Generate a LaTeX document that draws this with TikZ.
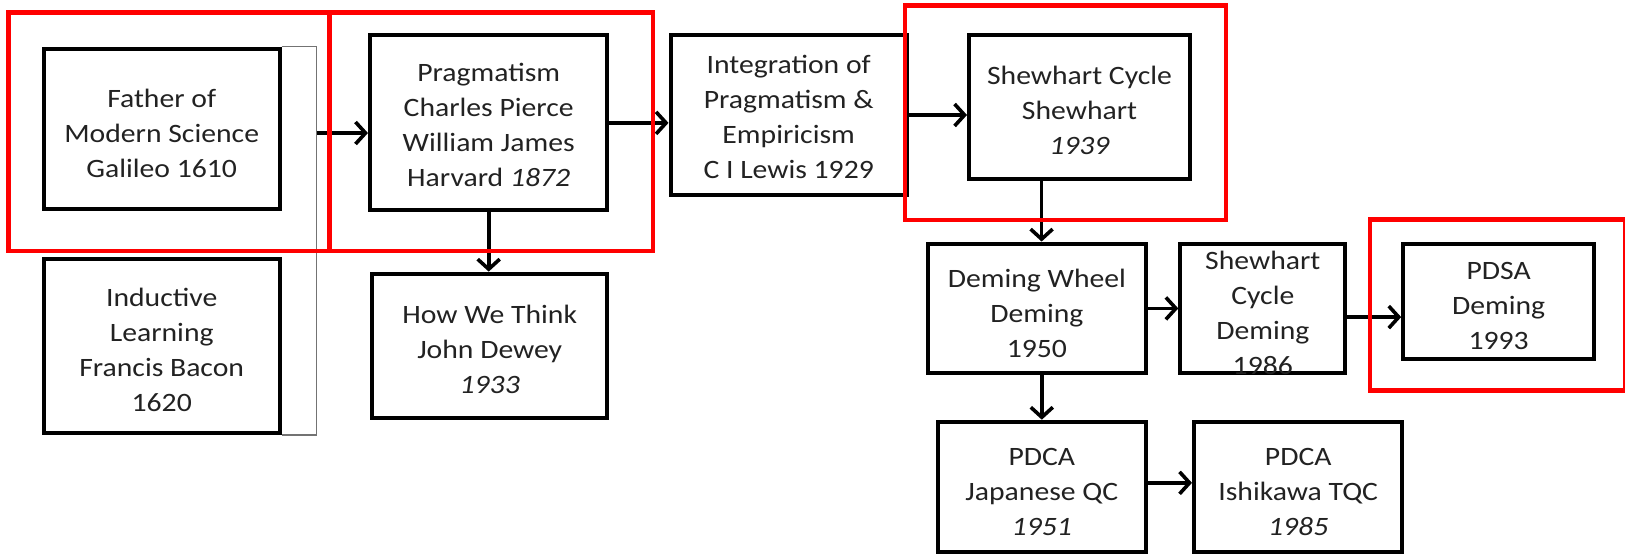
\documentclass[tikz,border=0pt]{standalone}
\usepackage{fontspec}
\setmainfont{Carlito}[FakeStretch=1.12]
\usetikzlibrary{arrows.meta,calc}
\definecolor{txtc}{HTML}{222222}
\tikzset{
  box/.style={draw=black, line width=4pt, rectangle, inner sep=0pt},
  txt/.style={inner sep=0pt, align=center, text=txtc, font=\fontsize{26.5}{35}\selectfont},
  arr/.style={line width=3.6pt, -{Straight Barb[length=10pt,width=22pt,line width=3.6pt]}},
  thin/.style={draw=black!55, line width=1.6pt},
  hl/.style={draw=red, line width=4.5pt}
}
% name, x, y, width, height, text-shift, text
\newcommand\mybox[7]{%
  \node[box, minimum width=#4pt, minimum height=#5pt] (#1) at (#2,#3) {};
  \node[txt] (#1-t) at ([yshift=#6pt]#1.center) {#7};}
\begin{document}
\begin{tikzpicture}[x=1pt,y=-1pt]
\useasboundingbox (0,0) rectangle (1625,554);
\fill[white] (0,0) rectangle (1625,554);
\begin{scope}
\clip (0,0) rectangle (1625,554);
\mybox{gal}{161.7}{128.5}{236}{160}{-4.5}{Father of\\Modern Science\\Galileo 1610}
\mybox{bac}{161.7}{346.2}{236}{174}{-4}{Inductive\\Learning\\Francis Bacon\\1620}
\mybox{prag}{488.7}{122.9}{237.5}{175}{-2.5}{Pragmatism\\Charles Pierce\\William James\\Harvard \textit{1872}}
\mybox{hwt}{489.7}{345.6}{235.4}{144}{-4}{How We Think\\John Dewey\\\textit{1933}}
\mybox{integ}{788.7}{115}{236.4}{159.7}{-2}{Integration of\\Pragmatism \&\\Empiricism\\C I Lewis 1929}
\mybox{shew}{1079.5}{107.3}{221}{144}{-3.5}{Shewhart Cycle\\Shewhart\\\textit{1939}}
\mybox{dw}{1036.9}{308.4}{218.8}{129.7}{-4.5}{Deming Wheel\\Deming\\1950}
\mybox{scd}{1262.8}{308.4}{165}{129.7}{-4}{Shewhart\\Cycle\\Deming\\1986}
\mybox{pdsa}{1498.6}{301.1}{190.8}{115}{-5}{PDSA\\Deming\\1993}
\mybox{jap}{1041.8}{486.85}{207.5}{130.3}{-5.5}{PDCA\\Japanese QC\\\textit{1951}}
\mybox{ishi}{1298.2}{486.85}{208.4}{130.3}{-5.5}{PDCA\\Ishikawa TQC\\\textit{1985}}
\end{scope}

\coordinate (brk) at (316.5,133);
\coordinate (sd) at (1041.6,181.4);
\draw[thin] (gal.north east) -| (brk) |- (bac.south east);
\draw[arr] (brk) -- (brk -| prag.west);
\draw[arr] (prag.east) -- (prag.east -| integ.west);
\draw[arr] (integ.east) -- (integ.east -| shew.west);
\draw[arr] (prag.south) -- (prag.south |- hwt.north);
\draw[arr] (sd) -- (sd |- dw.north);
\draw[arr] (dw.east) -- (dw.east -| scd.west);
\draw[arr] ([yshift=-8.7pt]scd.east) -- ([yshift=-8.7pt]scd.east -| pdsa.west);
\draw[arr] (jap.north |- dw.south) -- (jap.north);
\draw[arr] ([yshift=4pt]jap.east) -- ([yshift=4pt]jap.east -| ishi.west);

\node[hl, minimum width=321pt, minimum height=238.4pt, inner sep=0pt] (r1) at (169,131.6) {};
\node[hl, minimum width=323pt, minimum height=238.4pt, inner sep=0pt] (r2) at (491.3,131.6) {};
\node[hl, minimum width=321pt, minimum height=214.5pt, inner sep=0pt] (r3) at (1065.4,112.5) {};
\node[hl, minimum width=254.9pt, minimum height=171pt, inner sep=0pt] (r4) at (1497.5,305.2) {};
\end{tikzpicture}
\end{document}
